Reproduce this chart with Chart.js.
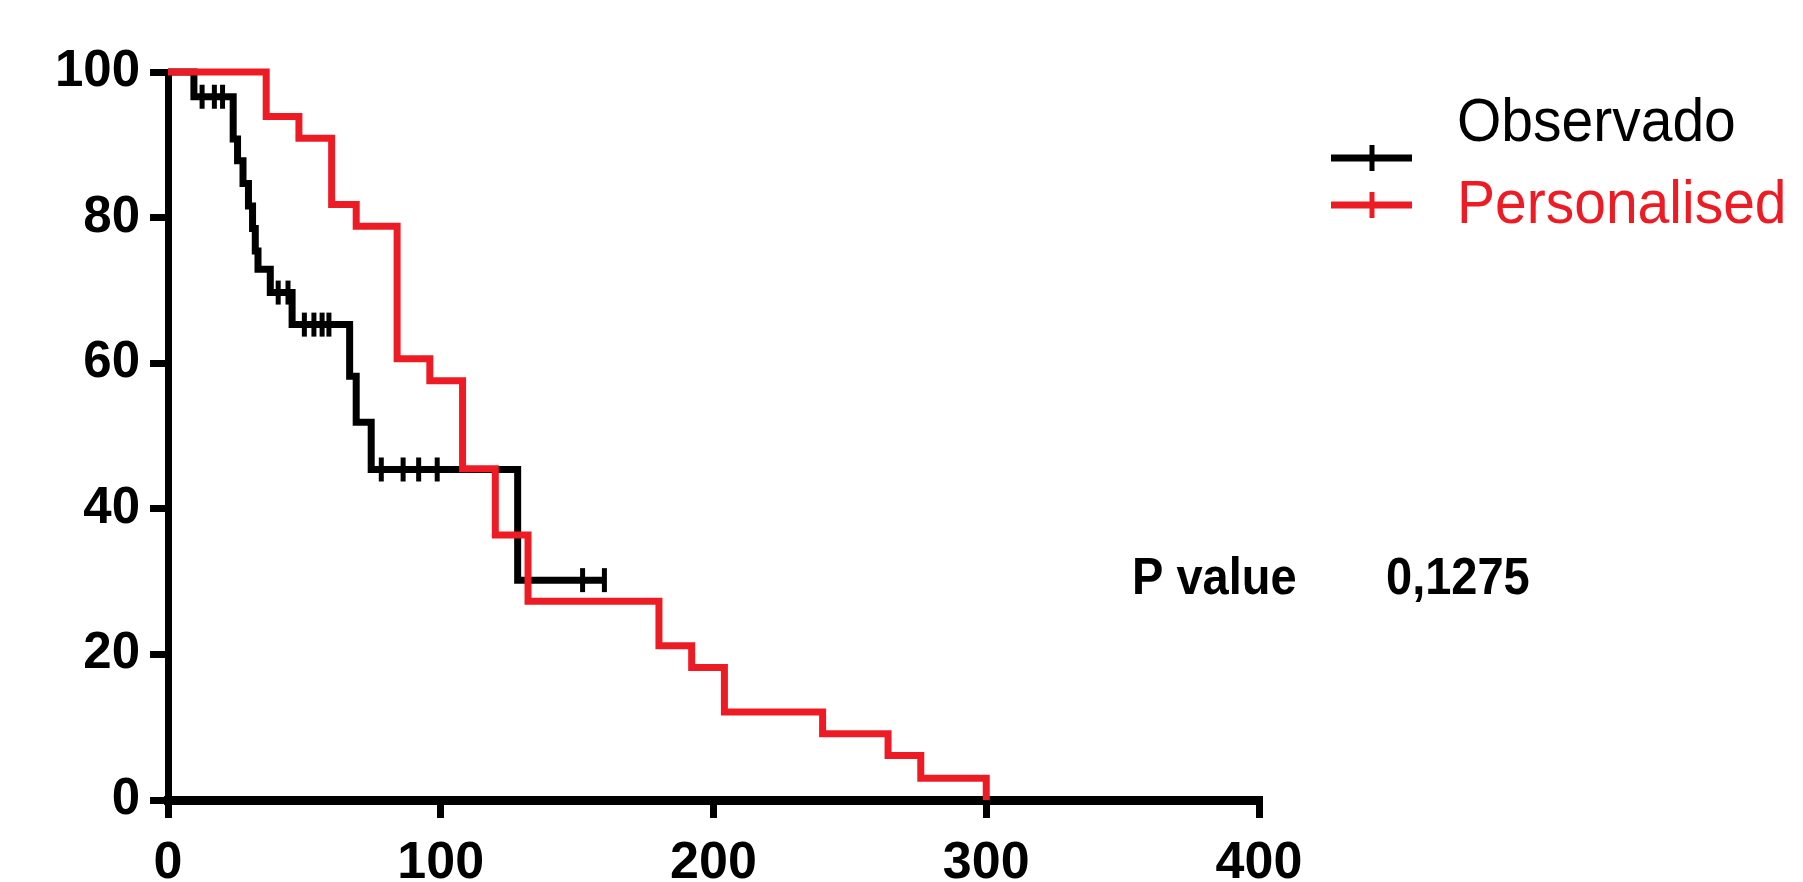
<!DOCTYPE html>
<html>
<head>
<meta charset="utf-8">
<script src="https://cdn.jsdelivr.net/npm/chart.js@4.4.1/dist/chart.umd.min.js"></script>
<style>
  html, body { margin: 0; padding: 0; background: #fff; }
  #wrap { width: 1803px; height: 882px; }
</style>
</head>
<body>
<div id="wrap"><canvas id="c" width="1803" height="882"></canvas></div>
<script>
// ---- data ----
const seriesNames = ["Observado", "Personalised"];
const xTickValues = [0, 100, 200, 300, 400];
const yTickValues = [0, 20, 40, 60, 80, 100];

// Observado (Kaplan-Meier steps)
const obsTimes = [0, 9.5, 23.9, 25.5, 27.5, 29.5, 31.0, 32.0, 33.0, 37.5, 45.5, 66.6, 69.0, 74.5, 128.2, 160];
const obsSurv  = [100, 96.6, 90.8, 87.8, 84.7, 81.6, 78.5, 75.4, 72.9, 69.7, 65.3, 58.2, 51.9, 45.4, 30.2, 30.2];
// Observado censored marks
const obsCensTimes = [12.5, 17, 20, 40.4, 44.0, 50, 53.5, 56.5, 59, 78.2, 86.2, 91.9, 98.7, 152, 160];
const obsCensSurv  = [96.6, 96.6, 96.6, 69.7, 69.7, 65.3, 65.3, 65.3, 65.3, 45.4, 45.4, 45.4, 45.4, 30.2, 30.2];

// Personalised (Kaplan-Meier steps)
const perTimes = [0, 36, 48, 60, 69, 84, 96, 108, 120, 132, 180, 192, 204, 240, 264, 276, 300];
const perSurv  = [100, 93.9, 90.9, 81.8, 78.8, 60.6, 57.6, 45.5, 36.4, 27.3, 21.2, 18.2, 12.1, 9.1, 6.1, 3.0, 0];

const pLabel = "P value";
const pValue = "0,1275";

const toPts = (xs, ys) => xs.map((x, i) => ({x: x, y: ys[i]}));

const FONT = "'Liberation Sans', Arial, Helvetica, sans-serif";
const RED = "#ED1C24";

const overlay = {
  id: 'overlay',
  afterDraw(chart) {
    const ctx = chart.ctx;
    ctx.save();
    // legend symbols
    const sym = [{y: 158, c: '#000'}, {y: 205, c: RED}];
    sym.forEach(s => {
      ctx.strokeStyle = s.c;
      ctx.lineWidth = 7;
      ctx.lineCap = 'butt';
      ctx.beginPath();
      ctx.moveTo(1331, s.y); ctx.lineTo(1412, s.y);
      ctx.stroke();
      ctx.lineWidth = 5;
      ctx.beginPath();
      ctx.moveTo(1372, s.y - 13); ctx.lineTo(1372, s.y + 13);
      ctx.stroke();
    });
    ctx.textBaseline = 'middle';
    ctx.textAlign = 'left';
    ctx.font = "57px " + FONT;
    ctx.fillStyle = '#000';
    ctx.save(); ctx.translate(1457, 124); ctx.scale(1, 1.08); ctx.fillText(seriesNames[0], 0, 0); ctx.restore();
    ctx.fillStyle = RED;
    ctx.save(); ctx.translate(1457, 206); ctx.scale(1, 1.08); ctx.fillText(seriesNames[1], 0, 0); ctx.restore();
    // P value
    ctx.fillStyle = '#000';
    ctx.font = "bold 47px " + FONT;
    [[pLabel, 1132], [pValue, 1386]].forEach(([t, x]) => {
      ctx.save();
      ctx.translate(x, 579);
      ctx.scale(1, 1.12);
      ctx.fillText(t, 0, 0);
      ctx.restore();
    });
    ctx.restore();
  }
};

new Chart(document.getElementById('c'), {
  type: 'line',
  data: {
    datasets: [
      {
        label: seriesNames[1],
        data: toPts(perTimes, perSurv),
        borderColor: RED,
        borderWidth: 7,
        stepped: 'before',
        pointRadius: 0,
        fill: false,
        clip: false,
        order: 0
      },
      {
        label: seriesNames[0] + " censored",
        type: 'scatter',
        data: toPts(obsCensTimes, obsCensSurv),
        pointStyle: 'line',
        rotation: 90,
        radius: 12,
        borderColor: '#000',
        backgroundColor: '#000',
        borderWidth: 5,
        showLine: false,
        clip: false,
        order: 1
      },
      {
        label: seriesNames[0],
        data: toPts(obsTimes, obsSurv),
        borderColor: '#000',
        borderWidth: 7,
        stepped: 'before',
        pointRadius: 0,
        fill: false,
        clip: false,
        order: 2
      }
    ]
  },
  options: {
    responsive: false,
    animation: false,
    devicePixelRatio: 1,
    layout: { padding: { left: 0, right: 544, top: 72, bottom: 0 } },
    plugins: { legend: { display: false }, tooltip: { enabled: false } },
    scales: {
      x: {
        type: 'linear',
        min: 0, max: 400,
        afterFit(s) { s.height = 82; },
        afterBuildTicks(s) { s.ticks = xTickValues.map(v => ({value: v})); },
        ticks: { color: '#000', font: { family: FONT, size: 52, weight: 'bold' }, padding: 14, maxRotation: 0 },
        grid: { drawOnChartArea: false, drawTicks: true, tickLength: 18, lineWidth: 7, color: '#000' },
        border: { display: true, width: 9, color: '#000' }
      },
      y: {
        type: 'linear',
        min: 0, max: 100,
        afterFit(s) { s.width = 168; },
        afterBuildTicks(s) { s.ticks = yTickValues.map(v => ({value: v})); },
        ticks: { color: '#000', font: { family: FONT, size: 51, weight: 'bold' }, padding: 10 },
        grid: { drawOnChartArea: false, drawTicks: true, tickLength: 18, lineWidth: 7, color: '#000' },
        border: { display: true, width: 7, color: '#000' }
      }
    }
  },
  plugins: [overlay]
});
</script>
</body>
</html>
